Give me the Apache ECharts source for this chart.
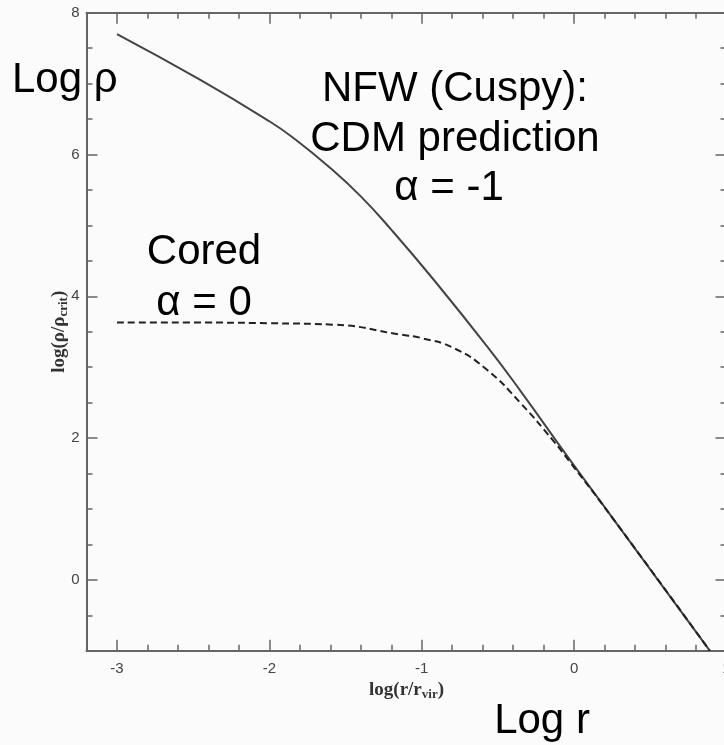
<!DOCTYPE html>
<html>
<head>
<meta charset="utf-8">
<script src="https://cdn.jsdelivr.net/npm/echarts@6/dist/echarts.min.js"></script>
<style>
html,body{margin:0;padding:0;background:#fbfbfb;overflow:hidden;width:724px;height:745px;}
#chart{width:727px;height:745px;}
</style>
</head>
<body>
<div id="chart"></div>
<script>
// ---- data ----
const NFW_LOGR   = [-3.0, -2.45, -2.0, -1.84, -1.60, -1.40, -1.20, -0.92, -0.57, -0.35, -0.05, 0.26, 0.89];
const NFW_LOGRHO = [7.70, 7.05, 6.47, 6.23, 5.81, 5.41, 4.94, 4.23, 3.29, 2.66, 1.76, 0.85, -1.0];
const CORED_LOGR   = [-3.0, -2.5, -2.0, -1.58, -1.14, -1.0, -0.79, -0.57, -0.35, -0.14, -0.03, 0.26, 0.89];
const CORED_LOGRHO = [3.63, 3.63, 3.62, 3.60, 3.46, 3.41, 3.27, 2.96, 2.49, 1.97, 1.67, 0.85, -1.0];
const X_MAJOR = [-3, -2, -1, 0, 1];
const Y_MAJOR = [0, 2, 4, 6, 8];
const X_MIN = -3.2, X_MAX = 1, X_MINOR = 0.2;
const Y_MIN = -1, Y_MAX = 8, Y_MINOR = 0.5;

const nfwData = NFW_LOGR.map((x, i) => [x, NFW_LOGRHO[i]]);
const coredData = CORED_LOGR.map((x, i) => [x, CORED_LOGRHO[i]]);

const AX = '#666';
const lineStyle = {color: AX, width: 2};
const tickStyle = {color: AX, width: 1.5};
const labelStyle = {color: '#444', fontSize: 15, fontFamily: "'Liberation Sans', Arial, sans-serif"};
const serifName = {fontFamily: "'Liberation Serif', 'DejaVu Serif', serif", fontWeight: 'bold', color: '#333'};

function xAx(pos, opts) {
  return Object.assign({
    type: 'value', position: pos, min: X_MIN, max: X_MAX,
    axisLine: {show: false, onZero: false, lineStyle: lineStyle},
    axisTick: {show: true, inside: true, length: 6, lineStyle: tickStyle},
    axisLabel: {show: false},
    splitLine: {show: false}
  }, opts);
}
function yAx(pos, opts) {
  return Object.assign({
    type: 'value', position: pos, min: Y_MIN, max: Y_MAX,
    axisLine: {show: false, onZero: false, lineStyle: lineStyle},
    axisTick: {show: true, inside: true, length: 6, lineStyle: tickStyle},
    axisLabel: {show: false},
    splitLine: {show: false}
  }, opts);
}

const chart = echarts.init(document.getElementById('chart'), null, {renderer: 'canvas'});
const annFont = "42px 'Liberation Sans', Arial, sans-serif";
function ann(text, x, y, align) {
  return {type: 'text', x: x, y: y, z: 100,
    style: {text: text, font: annFont, fill: '#000', align: align || 'center', verticalAlign: 'middle'}};
}
const nameRich = {
  a: Object.assign({fontSize: 19}, serifName),
  s: Object.assign({fontSize: 13, padding: [9, 0, 0, 0]}, serifName)
};

chart.setOption({
  backgroundColor: '#fbfbfb',
  animation: false,
  grid: {left: 86.5, right: 0.5, top: 12.8, bottom: 94.3, containLabel: false, outerBoundsMode: 'none'},
  xAxis: [
    xAx('bottom', {
      axisLine: {show: true, onZero: false, lineStyle: lineStyle},
      axisTick: {show: true, inside: true, length: 11, lineStyle: tickStyle, customValues: X_MAJOR},
      axisLabel: Object.assign({show: true, customValues: X_MAJOR, margin: 11, hideOverlap: false}, labelStyle),
      name: '{a|log(r/r}{s|vir}{a|)}', nameLocation: 'middle', nameGap: 28, nameMoveOverlap: false,
      nameTextStyle: {rich: nameRich}
    }),
    xAx('bottom', {interval: X_MINOR}),
    xAx('top', {interval: X_MINOR, axisLine: {show: true, onZero: false, lineStyle: lineStyle}}),
    xAx('top', {axisTick: {show: true, inside: true, length: 11, lineStyle: tickStyle, customValues: X_MAJOR}})
  ],
  yAxis: [
    yAx('left', {
      axisLine: {show: true, onZero: false, lineStyle: lineStyle},
      axisTick: {show: true, inside: true, length: 11, lineStyle: tickStyle, customValues: Y_MAJOR},
      axisLabel: Object.assign({show: true, customValues: Y_MAJOR, margin: 7}, labelStyle),
      name: '{a|log(ρ/ρ}{s|crit}{a|)}', nameLocation: 'middle', nameGap: 16, nameMoveOverlap: false,
      nameTextStyle: {rich: nameRich}
    }),
    yAx('left', {interval: Y_MINOR}),
    yAx('right', {interval: Y_MINOR, axisLine: {show: true, onZero: false, lineStyle: lineStyle}}),
    yAx('right', {axisTick: {show: true, inside: true, length: 11, lineStyle: tickStyle, customValues: Y_MAJOR}})
  ],
  series: [
    {type: 'line', name: 'NFW', xAxisIndex: 0, yAxisIndex: 0, data: nfwData,
      smooth: 0.5, showSymbol: false,
      lineStyle: {color: '#444', width: 2}},
    {type: 'line', name: 'Cored', xAxisIndex: 0, yAxisIndex: 0, data: coredData,
      smooth: 0.5, showSymbol: false,
      lineStyle: {color: '#222', width: 2, type: [7, 4]}}
  ],
  graphic: [
    ann('Log ρ', 12, 80, 'left'),
    ann('NFW (Cuspy):', 455, 89),
    ann('CDM prediction', 455, 139),
    ann('α = -1', 449, 188),
    ann('Cored', 204, 252),
    ann('α = 0', 204, 303),
    ann('Log r', 542, 721)
  ]
});
</script>
</body>
</html>
